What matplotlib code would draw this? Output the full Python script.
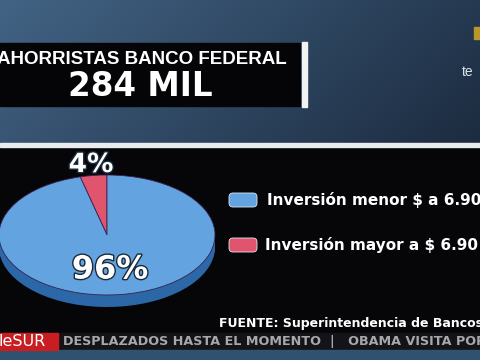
import numpy as np
import matplotlib
matplotlib.use("Agg")
import matplotlib.pyplot as plt
import matplotlib.patheffects as pe
from matplotlib.patches import FancyBboxPatch, Rectangle

# datos del grafico
titulo = "AHORRISTAS BANCO FEDERAL"
total = "284 MIL"
categorias = ["Inversión mayor a $ 6.90", "Inversión menor $ a 6.90"]
porcentajes = [4, 96]
colores = ["#e0546e", "#62a3e0"]
colores_lado = ["#a8283e", "#2c68a8"]
fuente = "FUENTE: Superintendencia de Bancos"
ticker = "DESPLAZADOS HASTA EL MOMENTO  |   OBAMA VISITA POR"

W, H = 480, 360
fig = plt.figure(figsize=(4.8, 3.6), dpi=100)
fig.patch.set_facecolor("#060608")

# fondo en coordenadas de pixel
bg = fig.add_axes([0, 0, 1, 1])
bg.set_xlim(0, W)
bg.set_ylim(H, 0)
bg.axis("off")

# degradado azul de la parte superior
xx, yy = np.meshgrid(np.linspace(0, 1, 240), np.linspace(0, 1, 80))
t = np.clip(0.75 * xx + 0.25 * yy, 0, 1)
c1 = np.array([0.26, 0.39, 0.52])
c2 = np.array([0.11, 0.17, 0.25])
img = c1[None, None, :] * (1 - t[..., None]) + c2[None, None, :] * t[..., None]
bg.imshow(img, extent=[0, W, 143, 0], aspect="auto", zorder=0)
bg.add_patch(Rectangle((0, 143), W, 4, color="#e8ecef", zorder=1))

# caja negra del titulo
bg.add_patch(Rectangle((0, 43), 300, 63, color="#050507", zorder=2))
bg.add_patch(Rectangle((302, 42), 5, 65, color="#f2f2f2", zorder=2))
bg.text(142, 60, titulo, color="white", fontsize=13.5, fontweight="bold",
        family="Liberation Sans", ha="center", va="center", zorder=3)
bg.text(140, 87, total, color="white", fontsize=23.5, fontweight="bold",
        family="DejaVu Sans", ha="center", va="center", zorder=3)
bg.text(462, 72, "te", color="#dde3ea", fontsize=10, family="Liberation Sans",
        va="center", zorder=3)
bg.add_patch(Rectangle((474, 27), 6, 12, color="#b8962a", zorder=3))

# leyenda
for i, (cat, col) in enumerate(zip(categorias[::-1], colores[::-1])):
    y = 200 + i * 45
    bg.add_patch(FancyBboxPatch((229, y - 7), 28, 14,
                                boxstyle="round,pad=0,rounding_size=4",
                                fc=col, ec="#dfe8f0", lw=0.6, zorder=3))
    bg.text(267 - i * 2, y, cat, color="white", fontsize=11, fontweight="bold",
            family="DejaVu Sans", va="center", zorder=3)

bg.text(219, 323, fuente, color="white", fontsize=9, fontweight="bold",
        family="DejaVu Sans", va="center", zorder=3)

# barra de noticias inferior
bg.add_patch(Rectangle((0, 333), W, 17, color="#141418", zorder=2))
bg.add_patch(Rectangle((0, 333), 58, 17, color="#c81e22", zorder=3))
bg.text(-1, 342, "leSUR", color="white", fontsize=11.5, family="DejaVu Sans",
        va="center", zorder=4)
bg.text(63, 342, ticker, color="#a8a8aa", fontsize=9.2, fontweight="bold",
        family="DejaVu Sans", va="center", zorder=4)
bg.add_patch(Rectangle((0, 350), W, 10, color="#2f5270", zorder=2))

# pastel con efecto 3D
ax = fig.add_axes([-1 / W, 50 / H, 216 / W, 140 / H])
for d in np.linspace(0.2, 0.01, 12):
    ax.pie(porcentajes, colors=colores_lado, startangle=90, center=(0, -d),
           wedgeprops=dict(linewidth=0))
ax.pie(porcentajes, colors=colores, startangle=90,
       wedgeprops=dict(linewidth=0.6, edgecolor="#3a2050"))
ax.set_aspect("auto")
ax.set_xlim(-1, 1)
ax.set_ylim(-1.25, 1.083)
ax.axis("off")

# etiquetas encima
top = fig.add_axes([0, 0, 1, 1])
top.set_xlim(0, W)
top.set_ylim(H, 0)
top.axis("off")
borde = [pe.withStroke(linewidth=2, foreground="#1a2a3a")]
top.text(91, 165, f"{porcentajes[0]}%", color="white", fontsize=19,
         fontweight="bold", family="DejaVu Sans", ha="center", va="center",
         path_effects=borde)
top.text(110, 270, f"{porcentajes[1]}%", color="white", fontsize=23,
         fontweight="bold", family="DejaVu Sans", ha="center", va="center",
         path_effects=borde)

fig.savefig("out.png", dpi=100)
